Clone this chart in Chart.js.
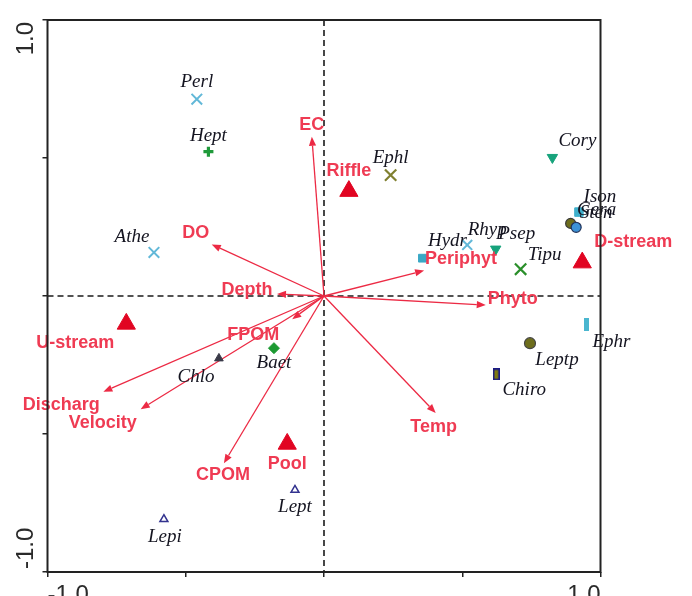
<!DOCTYPE html>
<html>
<head>
<meta charset="utf-8">
<script src="https://cdn.jsdelivr.net/npm/chart.js@4/dist/chart.umd.min.js"></script>
<style>
  html, body { margin: 0; padding: 0; background: #ffffff; }
  #wrap { width: 692px; height: 596px; }
</style>
</head>
<body>
<div id="wrap"><canvas id="cca" width="692" height="596"></canvas></div>
<script>
// ---- Ordination scores (axis 1 = x, axis 2 = y) ----

// Environmental variables, drawn as arrows from the origin
const envNames = ['EC', 'DO', 'Depth', 'Periphyt', 'Phyto', 'Temp', 'FPOM', 'Discharg', 'Velocity', 'CPOM'];
const envX = [-0.044, -0.406, -0.170, 0.362, 0.585, 0.404, -0.115, -0.798, -0.663, -0.362];
const envY = [0.577, 0.187, 0.007, 0.092, -0.033, -0.424, -0.084, -0.347, -0.410, -0.606];

// Site-group centroids
const siteNames = ['Riffle', 'D-stream', 'U-stream', 'Pool'];
const siteX = [0.090, 0.934, -0.715, -0.133];
const siteY = [0.380, 0.121, -0.101, -0.536];

// Taxa
const taxaNames = ['Perl', 'Hept', 'Athe', 'Ephl', 'Cory', 'Ison', 'Gera', 'Sten', 'Hydr', 'Rhyp',
                   'Psep', 'Tipu', 'Ephr', 'Leptp', 'Chiro', 'Baet', 'Chlo', 'Lept', 'Lepi'];
const taxaX = [-0.460, -0.418, -0.615, 0.241, 0.826, 0.922, 0.892, 0.912, 0.356, 0.518,
               0.621, 0.711, 0.949, 0.745, 0.623, -0.181, -0.380, -0.105, -0.579];
const taxaY = [0.713, 0.523, 0.158, 0.438, 0.502, 0.304, 0.263, 0.249, 0.137, 0.185,
               0.170, 0.097, -0.105, -0.171, -0.284, -0.189, -0.226, -0.703, -0.809];

// Axis ticks
const tickValues = [-1, 1];
const tickLabels = ['-1.0', '1.0'];

// ---- Styling ----
const ENV_RED = '#ec2a44';
const ENV_TEXT = '#ef3b53';
const SITE_RED = '#e10522';

// Small bitmap markers for the bar-shaped symbols
function barMarker(w, h, fill, stroke) {
  const c = document.createElement('canvas');
  c.width = w; c.height = h;
  const g = c.getContext('2d');
  g.fillStyle = fill;
  g.fillRect(0, 0, w, h);
  if (stroke) {
    g.strokeStyle = stroke;
    g.lineWidth = 1.6;
    g.strokeRect(0.8, 0.8, w - 1.6, h - 1.6);
  }
  return c;
}

// marker shape / colours and label placement (pixel offset of the label centre)
const taxaStyle = {
  Perl:  { style: 'crossRot', r: 7.5, fill: '#62b8d8', line: '#62b8d8', w: 2,   rot: 0,   lab: [0, -17] },
  Hept:  { style: 'cross',    r: 5,   fill: '#1f9a3a', line: '#1f9a3a', w: 3.2, rot: 0,   lab: [0, -16] },
  Athe:  { style: 'crossRot', r: 7.5, fill: '#62b8d8', line: '#62b8d8', w: 2,   rot: 0,   lab: [-22, -15] },
  Ephl:  { style: 'crossRot', r: 8,   fill: '#808030', line: '#808030', w: 2.2, rot: 0,   lab: [0, -17] },
  Cory:  { style: 'triangle', r: 6,   fill: '#17a37c', line: '#17a37c', w: 1,   rot: 180, lab: [25, -16] },
  Ison:  { style: 'rect',     r: 6,   fill: '#3fb0cc', line: '#3fb0cc', w: 1,   rot: 0,   lab: [21, -15] },
  Gera:  { style: 'circle',   r: 5,   fill: '#6d6d1c', line: '#3a3a3a', w: 1.2, rot: 0,   lab: [26, -13] },
  Sten:  { style: 'circle',   r: 5,   fill: '#3d92d6', line: '#22335a', w: 1.2, rot: 0,   lab: [20, -14] },
  Hydr:  { style: 'rect',     r: 5.5, fill: '#3aa9c6', line: '#3aa9c6', w: 1,   rot: 0,   lab: [25, -17] },
  Rhyp:  { style: 'crossRot', r: 7,   fill: '#62b8d8', line: '#62b8d8', w: 2,   rot: 0,   lab: [20, -15] },
  Psep:  { style: 'triangle', r: 6,   fill: '#17a37c', line: '#17a37c', w: 1,   rot: 180, lab: [21, -15] },
  Tipu:  { style: 'crossRot', r: 8,   fill: '#2b8f2b', line: '#2b8f2b', w: 2.2, rot: 0,   lab: [24, -14] },
  Ephr:  { style: barMarker(5, 13, '#4ab6cf', null), r: 7, fill: '#4ab6cf', line: '#4ab6cf', w: 0, rot: 0, lab: [25, 17] },
  Leptp: { style: 'circle',   r: 5.5, fill: '#6d6d1c', line: '#444444', w: 1.2, rot: 0,   lab: [27, 17] },
  Chiro: { style: barMarker(7, 12, '#7f7a10', '#1a1a85'), r: 7, fill: '#7f7a10', line: '#1a1a85', w: 0, rot: 0, lab: [28, 16] },
  Baet:  { style: 'rectRot',  r: 5.5, fill: '#1c9a32', line: '#1c9a32', w: 1,   rot: 0,   lab: [0, 15] },
  Chlo:  { style: 'triangle', r: 5,   fill: '#3a3a48', line: '#3a3a48', w: 1,   rot: 0,   lab: [-23, 19] },
  Lept:  { style: 'triangle', r: 4.6, fill: '#ffffff', line: '#33338f', w: 1.5, rot: 0,   lab: [0, 17] },
  Lepi:  { style: 'triangle', r: 4.6, fill: '#ffffff', line: '#33338f', w: 1.5, rot: 0,   lab: [1, 18] }
};

const envLabelOffset = {
  EC: [0, -12], DO: [-16, -11], Depth: [-30, -4], Periphyt: [37, -12], Phyto: [27, -6],
  Temp: [-2, 14], FPOM: [-39, 16], Discharg: [-42, 13], Velocity: [-38, 14], CPOM: [-1, 12]
};
const siteLabelOffset = {
  Riffle: [0, -20], 'D-stream': [51, -21], 'U-stream': [-51, 19], Pool: [0, 20]
};

const pick = key => taxaNames.map(n => taxaStyle[n][key]);

// ---- Plugins: zero lines + arrows underneath, labels + frame on top ----
const biplotDecor = {
  id: 'biplotDecor',
  beforeDatasetsDraw(chart) {
    const { ctx, chartArea: a, scales: { x, y } } = chart;
    const x0 = x.getPixelForValue(0), y0 = y.getPixelForValue(0);
    ctx.save();
    // dashed zero lines
    ctx.strokeStyle = '#1a1a1a';
    ctx.lineWidth = 1.6;
    ctx.setLineDash([6, 4]);
    ctx.beginPath();
    ctx.moveTo(x0, a.top); ctx.lineTo(x0, a.bottom);
    ctx.moveTo(a.left, y0); ctx.lineTo(a.right, y0);
    ctx.stroke();
    ctx.setLineDash([]);
    // environmental arrows
    ctx.strokeStyle = ENV_RED;
    ctx.fillStyle = ENV_RED;
    ctx.lineWidth = 1.3;
    envNames.forEach((n, i) => {
      const tx = x.getPixelForValue(envX[i]);
      const ty = y.getPixelForValue(envY[i]);
      const ang = Math.atan2(ty - y0, tx - x0);
      const hl = 9, hw = 3.6;
      const bx = tx - hl * Math.cos(ang), by = ty - hl * Math.sin(ang);
      ctx.beginPath();
      ctx.moveTo(x0, y0); ctx.lineTo(bx, by);
      ctx.stroke();
      ctx.beginPath();
      ctx.moveTo(tx, ty);
      ctx.lineTo(bx + hw * Math.sin(ang), by - hw * Math.cos(ang));
      ctx.lineTo(bx - hw * Math.sin(ang), by + hw * Math.cos(ang));
      ctx.closePath();
      ctx.fill();
    });
    ctx.restore();
  },
  afterDatasetsDraw(chart) {
    const { ctx, chartArea: a, scales: { x, y } } = chart;
    ctx.save();
    ctx.textAlign = 'center';
    ctx.textBaseline = 'middle';
    // taxa names
    ctx.font = 'italic 19px "Liberation Serif", "Times New Roman", serif';
    ctx.fillStyle = '#141420';
    taxaNames.forEach((n, i) => {
      const o = taxaStyle[n].lab;
      ctx.fillText(n, x.getPixelForValue(taxaX[i]) + o[0], y.getPixelForValue(taxaY[i]) + o[1]);
    });
    // environmental variable names
    ctx.font = 'bold 18px "Liberation Sans", Arial, sans-serif';
    ctx.fillStyle = ENV_TEXT;
    envNames.forEach((n, i) => {
      const o = envLabelOffset[n];
      ctx.fillText(n, x.getPixelForValue(envX[i]) + o[0], y.getPixelForValue(envY[i]) + o[1]);
    });
    // site group names
    siteNames.forEach((n, i) => {
      const o = siteLabelOffset[n];
      ctx.fillText(n, x.getPixelForValue(siteX[i]) + o[0], y.getPixelForValue(siteY[i]) + o[1]);
    });
    // plot frame
    ctx.strokeStyle = '#222222';
    ctx.lineWidth = 2;
    ctx.strokeRect(a.left, a.top, a.right - a.left, a.bottom - a.top);
    // rotated y tick labels
    ctx.font = '24px "Liberation Sans", Arial, sans-serif';
    ctx.fillStyle = '#2a2a2a';
    tickValues.forEach((v, i) => {
      const py = y.getPixelForValue(v);
      ctx.save();
      ctx.translate(26, v > 0 ? py + 2 : py - 3);
      ctx.rotate(-Math.PI / 2);
      ctx.textAlign = v > 0 ? 'right' : 'left';
      ctx.fillText(tickLabels[i], 0, 0);
      ctx.restore();
    });
    ctx.restore();
  }
};

new Chart(document.getElementById('cca'), {
  type: 'scatter',
  data: {
    datasets: [
      {
        label: 'Sites',
        data: siteNames.map((n, i) => ({ x: siteX[i], y: siteY[i] })),
        pointStyle: 'triangle',
        pointRadius: 10.5,
        pointBackgroundColor: SITE_RED,
        pointBorderColor: SITE_RED,
        pointBorderWidth: 1
      },
      {
        label: 'Taxa',
        data: taxaNames.map((n, i) => ({ x: taxaX[i], y: taxaY[i] })),
        pointStyle: pick('style'),
        pointRadius: pick('r'),
        pointBackgroundColor: pick('fill'),
        pointBorderColor: pick('line'),
        pointBorderWidth: pick('w'),
        pointRotation: pick('rot')
      }
    ]
  },
  options: {
    responsive: false,
    devicePixelRatio: 1,
    animation: false,
    events: [],
    layout: { padding: { left: 0, top: 20, right: 91.5, bottom: 0 } },
    plugins: { legend: { display: false }, tooltip: { enabled: false } },
    scales: {
      x: {
        type: 'linear',
        min: -1, max: 1,
        border: { display: false },
        grid: { drawOnChartArea: false, drawTicks: true, tickLength: 5, color: '#222222', lineWidth: 1.5 },
        ticks: {
          stepSize: 0.5,
          autoSkip: false,
          maxRotation: 0,
          align: 'inner',
          padding: 4,
          color: '#2a2a2a',
          font: { size: 24, family: '"Liberation Sans", Arial, sans-serif' },
          callback: v => {
            const k = tickValues.indexOf(v);
            return k >= 0 ? tickLabels[k] : '';
          }
        },
        afterFit: s => { s.height = 24; }
      },
      y: {
        type: 'linear',
        min: -1, max: 1,
        border: { display: false },
        grid: { drawOnChartArea: false, drawTicks: true, tickLength: 5, color: '#222222', lineWidth: 1.5 },
        ticks: { stepSize: 0.5, display: false },
        afterFit: s => { s.width = 47.5; }
      }
    }
  },
  plugins: [biplotDecor]
});
</script>
</body>
</html>
